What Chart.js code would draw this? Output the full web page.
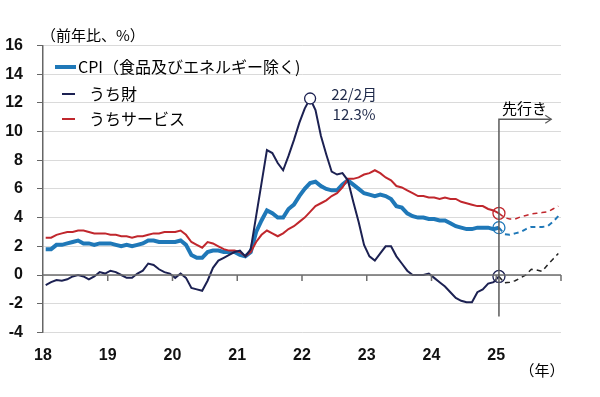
<!DOCTYPE html>
<html>
<head>
<meta charset="utf-8">
<script src="https://cdn.jsdelivr.net/npm/chart.js@4"></script>
<style>
html,body{margin:0;padding:0;background:#fff;}
#wrap{position:relative;width:600px;height:397px;}
canvas{display:block;}
</style>
</head>
<body>
<div id="wrap"><canvas id="c" width="600" height="397"></canvas></div>
<script>
// ---- data (monthly, 2018/1 .. 2025/1) ----
const yearLabels = ['18','19','20','21','22','23','24','25'];
const seriesNames = ['CPI（食品及びエネルギー除く)', 'うち財', 'うちサービス'];
const coreCPI = [
  1.8,1.8,2.1,2.1,2.2,2.3,2.4,2.2,2.2,2.1,2.2,2.2,
  2.2,2.1,2.0,2.1,2.0,2.1,2.2,2.4,2.4,2.3,2.3,2.3,
  2.3,2.4,2.1,1.4,1.2,1.2,1.6,1.7,1.7,1.6,1.6,1.6,
  1.4,1.3,1.6,3.0,3.8,4.5,4.3,4.0,4.0,4.6,4.9,5.5,
  6.0,6.4,6.5,6.2,6.0,5.9,5.9,6.3,6.6,6.3,6.0,5.7,
  5.6,5.5,5.6,5.5,5.3,4.8,4.7,4.3,4.1,4.0,4.0,3.9,
  3.9,3.8,3.8,3.6,3.4,3.3,3.2,3.2,3.3,3.3,3.3,3.2,
  3.3];
const coreGoods = [
  -0.7,-0.5,-0.35,-0.4,-0.3,-0.1,0.0,-0.1,-0.3,-0.1,0.2,0.1,
  0.3,0.2,0.0,-0.2,-0.2,0.1,0.3,0.8,0.7,0.4,0.2,0.1,
  -0.2,0.1,-0.2,-0.9,-1.0,-1.1,-0.4,0.5,1.0,1.2,1.4,1.6,
  1.7,1.3,1.8,4.1,6.4,8.7,8.5,7.8,7.3,8.3,9.4,10.6,
  11.6,12.3,11.5,9.7,8.4,7.2,7.0,7.1,6.6,5.1,3.7,2.1,
  1.3,1.0,1.5,2.0,2.0,1.3,0.8,0.3,0.0,0.0,0.0,0.1,
  -0.2,-0.5,-0.8,-1.2,-1.6,-1.8,-1.9,-1.9,-1.2,-1.0,-0.6,-0.5,
  -0.1];
const coreServices = [
  2.6,2.6,2.8,2.9,3.0,3.0,3.1,3.1,3.0,2.9,2.9,2.9,
  2.8,2.8,2.7,2.7,2.6,2.7,2.7,2.8,2.9,2.9,3.0,3.0,
  3.0,3.1,2.8,2.3,2.1,1.9,2.3,2.2,2.0,1.8,1.7,1.7,
  1.6,1.3,1.6,2.3,2.8,3.1,2.9,2.7,2.9,3.2,3.4,3.7,
  4.0,4.4,4.8,5.0,5.2,5.5,5.7,6.1,6.7,6.7,6.8,7.0,
  7.1,7.3,7.1,6.8,6.6,6.2,6.1,5.9,5.7,5.5,5.5,5.4,
  5.4,5.3,5.4,5.3,5.3,5.1,5.0,4.9,4.8,4.8,4.6,4.5,
  4.3];
// ---- outlook (2025/1 .. 2025/12) ----
const fcCPI      = [3.3,2.85,2.8,2.9,3.0,3.2,3.35,3.35,3.35,3.4,3.7,4.1];
const fcGoods    = [-0.1,-0.55,-0.5,-0.4,-0.2,0.0,0.4,0.35,0.25,0.7,1.1,1.5];
const fcServices = [4.3,4.0,3.9,3.9,4.05,4.15,4.25,4.3,4.35,4.4,4.6,4.8];
const peakIndex = 49;           // 2022/2
const peakText = ['22/2月', '12.3%'];
const lastIndex = coreCPI.length - 1;  // 2025/1
const yTicks = [-4,-2,0,2,4,6,8,10,12,14,16];

const BLUE = '#1f78b8', NAVY = '#1c2152', RED = '#c0272d';
const toPts = (arr, start) => arr.map((v, k) => ({x: start + k + 0.5, y: v}));
const JP = '"Noto Sans CJK JP", sans-serif';
const NUM = '"Liberation Sans", Arial, sans-serif';

const markerR = (idxs, r) => ctx => idxs.includes(ctx.dataIndex) ? r : 0;

const datasets = [
  {label: seriesNames[1], data: toPts(coreGoods, 0), borderColor: NAVY, borderWidth: 2, order: 0,
   pointRadius: ctx => ctx.dataIndex === peakIndex ? 5.5 : (ctx.dataIndex === lastIndex ? 6 : 0),
   pointBackgroundColor: ctx => ctx.dataIndex === peakIndex ? '#fff' : 'rgba(255,255,255,0)',
   pointBorderColor: NAVY, pointBorderWidth: 1.3},
  {label: seriesNames[2], data: toPts(coreServices, 0), borderColor: RED, borderWidth: 2, order: 1,
   pointRadius: markerR([lastIndex], 6), pointBackgroundColor: 'rgba(255,255,255,0)',
   pointBorderColor: RED, pointBorderWidth: 1.3},
  {label: seriesNames[0], data: toPts(coreCPI, 0), borderColor: BLUE, borderWidth: 4, order: 2,
   pointRadius: markerR([lastIndex], 6), pointBackgroundColor: 'rgba(255,255,255,0)',
   pointBorderColor: BLUE, pointBorderWidth: 1.3},
  {label: 'fcGoods', data: toPts(fcGoods, lastIndex), borderColor: '#222', borderWidth: 1.5, borderDash: [5,4], pointRadius: 0, order: 3},
  {label: 'fcServices', data: toPts(fcServices, lastIndex), borderColor: RED, borderWidth: 1.5, borderDash: [5,4], pointRadius: 0, order: 4},
  {label: 'fcCPI', data: toPts(fcCPI, lastIndex), borderColor: BLUE, borderWidth: 2, borderDash: [5,4], pointRadius: 0, order: 5}
];
datasets.forEach(d => { d.tension = 0; d.fill = false; });

const decor = {
  id: 'decor',
  afterDatasetsDraw(chart) {
    const {ctx, chartArea: ca, scales: {x, y}} = chart;
    ctx.save();
    // zero axis line with year ticks
    const y0 = y.getPixelForValue(0);
    ctx.strokeStyle = '#6e6e6e';
    ctx.lineWidth = 1.5;
    ctx.beginPath();
    ctx.moveTo(ca.left, y0); ctx.lineTo(ca.right, y0);
    for (let k = 1; k <= 8; k++) {
      const px = x.getPixelForValue(12 * k);
      ctx.moveTo(px, y0); ctx.lineTo(px, y0 + 6);
    }
    ctx.stroke();
    // outlook divider + arrow
    const vx = x.getPixelForValue(lastIndex + 0.5);
    const vTop = y.getPixelForValue(10.85), vBot = y.getPixelForValue(-2.9);
    const ax = x.getPixelForValue(94.2);
    ctx.strokeStyle = '#5a5a5a';
    ctx.lineWidth = 1.5;
    ctx.beginPath();
    ctx.moveTo(vx, vBot); ctx.lineTo(vx, vTop); ctx.lineTo(ax, vTop);
    ctx.stroke();
    ctx.lineWidth = 1.2;
    ctx.beginPath();
    ctx.moveTo(ax - 6, vTop - 4); ctx.lineTo(ax, vTop); ctx.lineTo(ax - 6, vTop + 4);
    ctx.stroke();
    ctx.fillStyle = '#000';
    ctx.font = '15px ' + JP;
    ctx.textBaseline = 'middle';
    ctx.textAlign = 'left';
    ctx.fillText('先行き', vx + 3, y.getPixelForValue(11.64));
    // peak annotation
    const pk = chart.getDatasetMeta(0).data[peakIndex];
    ctx.fillStyle = '#1f2a4a';
    ctx.textAlign = 'center';
    ctx.font = '15px ' + JP;
    ctx.fillText(peakText[0], pk.x + 44, pk.y - 4);
    ctx.fillText(peakText[1], pk.x + 44, pk.y + 16);
    // y title and x unit
    ctx.fillStyle = '#000';
    ctx.textAlign = 'left';
    ctx.font = '15px ' + JP;
    ctx.fillText('（前年比、%）', ca.left - 2, 35);
    ctx.textAlign = 'center';
    ctx.fillText('（年）', 542, 370);
    // legend
    const items = [
      {ds: datasets[2], x1: 55, x2: 76, tx: 78, y: 67},
      {ds: datasets[0], x1: 62, x2: 75, tx: 89, y: 94},
      {ds: datasets[1], x1: 62, x2: 75, tx: 89, y: 119}
    ];
    ctx.font = '16px ' + JP;
    ctx.textAlign = 'left';
    items.forEach(it => {
      ctx.strokeStyle = it.ds.borderColor;
      ctx.lineWidth = it.ds.borderWidth;
      ctx.beginPath(); ctx.moveTo(it.x1, it.y); ctx.lineTo(it.x2, it.y); ctx.stroke();
      ctx.fillStyle = '#000';
      ctx.fillText(it.ds.label, it.tx, it.y);
    });
    ctx.restore();
  }
};

new Chart(document.getElementById('c'), {
  type: 'line',
  data: {datasets},
  options: {
    responsive: false,
    devicePixelRatio: 1,
    animation: false,
    layout: {padding: {top: 45.4, right: 39, left: 0, bottom: 0}},
    plugins: {legend: {display: false}, tooltip: {enabled: false}},
    scales: {
      x: {
        type: 'linear', min: 0, max: 96,
        afterBuildTicks: s => { s.ticks = yearLabels.map((_, k) => ({value: 12 * k})); },
        ticks: {callback: v => yearLabels[v / 12] ?? '', autoSkip: false, maxRotation: 0,
                font: {family: NUM, size: 16, weight: 'bold'}, color: '#111', padding: 14},
        grid: {display: false, drawTicks: false},
        border: {display: false},
        afterFit: s => { s.height = 64.6; }
      },
      y: {
        min: -4, max: 16,
        afterBuildTicks: s => { s.ticks = yTicks.map(v => ({value: v})); },
        ticks: {font: {family: NUM, size: 16, weight: 'bold'}, color: '#111', padding: 14},
        grid: {color: '#dadada', lineWidth: 1, tickColor: '#666', tickLength: 6},
        border: {color: '#666', width: 1.5},
        afterFit: s => { s.width = 43; }
      }
    }
  },
  plugins: [decor]
});
</script>
</body>
</html>
